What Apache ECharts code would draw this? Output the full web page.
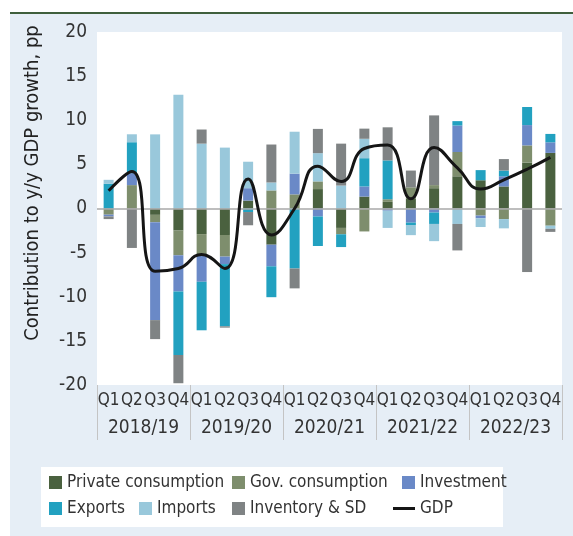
<!DOCTYPE html>
<html>
<head>
<meta charset="utf-8">
<script src="https://cdn.jsdelivr.net/npm/echarts@6/dist/echarts.min.js"></script>
<style>
  html, body { margin: 0; padding: 0; background: #fff; }
  #wrap { position: relative; width: 573px; height: 536px; }
  #panel {
    position: absolute; left: 10px; top: 12px; right: 0; bottom: 0;
    background: #e6eef6; border-top: 2px solid #3f5f3c;
  }
  #chart { position: absolute; left: 0; top: 0; width: 573px; height: 536px; }
</style>
</head>
<body>
<div id="wrap">
  <div id="panel"></div>
  <div id="chart"></div>
</div>
<script>
// quarters and fiscal years
const quarters = ['Q1', 'Q2', 'Q3', 'Q4', 'Q1', 'Q2', 'Q3', 'Q4', 'Q1', 'Q2', 'Q3', 'Q4',
  'Q1', 'Q2', 'Q3', 'Q4', 'Q1', 'Q2', 'Q3', 'Q4'];
const years = ['2018/19', '2019/20', '2020/21', '2021/22', '2022/23'];

// contributions to y/y GDP growth, pp
const privateCons = [0, 0, -0.72, -2.5, -2.9, -3.0, 0.9, -4.1, 0, 2.2, -2.2, 1.35,
  0.75, 1.15, 2.3, 3.65, 3.2, 2.5, 5.2, 6.3];
const govCons = [-0.7, 2.65, -0.83, -2.8, -2.45, -2.45, 0, 2.05, 1.6, 0.87, -0.72, -2.6,
  0.3, 1.25, 0.35, 2.75, -0.8, -1.2, 1.95, -1.95];
const investment = [-0.2, 1.36, -11.1, -4.1, -2.95, -0.85, 1.4, -2.45, 2.35, -0.9, 0, 1.15,
  -0.25, -1.6, -0.45, 3.0, -0.3, 1.15, 2.3, 1.2];
const exportsC = [2.8, 3.5, 0, -7.2, -5.5, -7.05, -0.4, -3.5, -6.8, -3.35, -1.45, 3.2,
  4.4, -0.27, -1.3, 0.5, 1.15, 0.65, 2.05, 0.95];
const importsC = [0.45, 0.9, 8.4, 12.9, 7.35, 6.9, 3.0, 0.9, 4.75, 3.2, 2.6, 2.2,
  -1.95, -1.15, -1.95, -1.75, -1.0, -1.05, 0, -0.35];
const inventory = [-0.3, -4.47, -2.15, -3.2, 1.6, -0.15, -1.5, 4.3, -2.25, 2.75, 4.75, 1.15,
  3.75, 1.9, 7.9, -3.0, 0, 1.3, -7.2, -0.35];
const gdp = [2.0, 4.2, -7.1, -6.8, -5.2, -6.8, 3.35, -3.0, 0, 4.8, 3.05, 6.8,
  7.2, 1.1, 6.9, 4.6, 2.2, 3.25, 4.45, 5.8];

const font = "'DejaVu Sans Condensed', 'Liberation Sans', sans-serif";
const textColor = '#333';

const chart = echarts.init(document.getElementById('chart'), null, { renderer: 'canvas' });

function bar(name, data, color) {
  return {
    name: name, type: 'bar', stack: 'total', data: data, barWidth: 10,
    itemStyle: { color: color }
  };
}

function legendAt(name, left, top, w, h) {
  return {
    data: [name], left: left, top: top, padding: 0, itemGap: 0,
    itemWidth: w, itemHeight: h, icon: 'rect', selectedMode: false,
    textStyle: { fontFamily: font, fontSize: 17, color: textColor }
  };
}

const option = {
  animation: false,
  backgroundColor: 'transparent',
  textStyle: { fontFamily: font },
  grid: {
    left: 97, right: 11, top: 32, bottom: 151,
    show: true, backgroundColor: '#fff', borderWidth: 0
  },
  graphic: [{
    type: 'rect', left: 41, top: 467, z: 0,
    shape: { width: 462, height: 60 }, style: { fill: '#fff' }
  }, {
    type: 'text', x: 33, y: 183, rotation: Math.PI / 2, z: 5,
    style: {
      text: 'Contribution to y/y GDP growth, pp', fill: '#222',
      font: '20px ' + font, textAlign: 'center', textVerticalAlign: 'middle'
    }
  }],
  legend: [
    legendAt('Private consumption', 49, 474, 13, 13),
    legendAt('Gov. consumption', 232, 474, 13, 13),
    legendAt('Investment', 402, 474, 13, 13),
    legendAt('Exports', 49, 500, 13, 13),
    legendAt('Imports', 139, 500, 13, 13),
    legendAt('Inventory & SD', 232, 500, 13, 13),
    legendAt('GDP', 393, 500, 22, 3)
  ],
  xAxis: [{
    type: 'category', data: quarters, position: 'bottom',
    axisLine: { show: false }, axisTick: { show: false },
    axisLabel: { interval: 0, margin: 7, fontSize: 17, color: textColor, fontFamily: font }
  }, {
    type: 'category', data: years, position: 'bottom',
    axisLine: { show: false },
    axisTick: { show: true, length: 55, lineStyle: { color: '#c4c4c4', width: 1 } },
    axisLabel: { interval: 0, margin: 34, fontSize: 19, color: textColor, fontFamily: font }
  }],
  yAxis: {
    type: 'value', min: -20, max: 20, interval: 5,
    axisLine: { show: false }, axisTick: { show: false }, splitLine: { show: false },
    axisLabel: { fontSize: 19, color: textColor, margin: 10, fontFamily: font }
  },
  series: [
    Object.assign(bar('Private consumption', privateCons, '#4a613f'), {
      markLine: {
        silent: true, symbol: 'none', label: { show: false },
        lineStyle: { color: '#a8a8a8', width: 1.5, type: 'solid' },
        data: [{ yAxis: 0 }]
      }
    }),
    bar('Gov. consumption', govCons, '#7e8e6d'),
    bar('Investment', investment, '#6a89c7'),
    bar('Exports', exportsC, '#22a1c0'),
    bar('Imports', importsC, '#99c8db'),
    bar('Inventory & SD', inventory, '#7f8384'),
    {
      name: 'GDP', type: 'line', data: gdp, smooth: true, showSymbol: false, z: 5,
      itemStyle: { color: '#151515' },
      lineStyle: { color: '#151515', width: 3 }
    }
  ]
};

chart.setOption(option);
</script>
</body>
</html>
